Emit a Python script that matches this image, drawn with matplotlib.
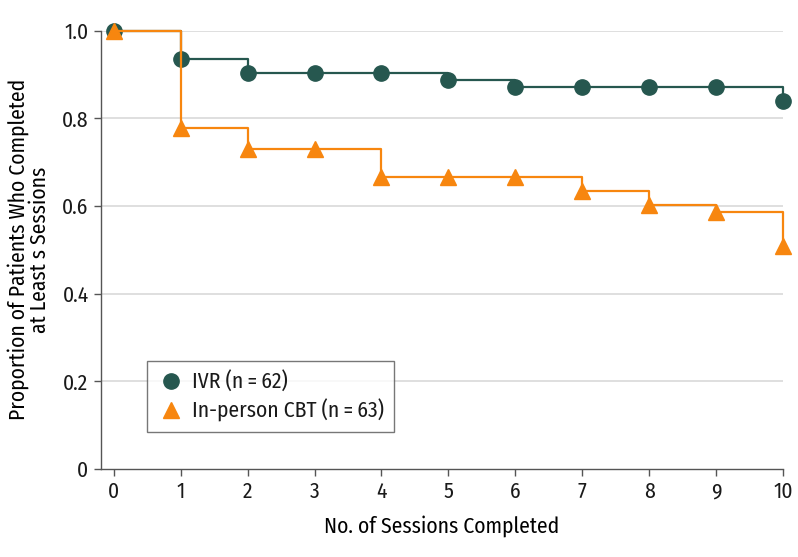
import numpy as np
import matplotlib
matplotlib.use('Agg')
import matplotlib.pyplot as plt

plt.rcParams['font.family'] = ['Fira Sans Condensed', 'DejaVu Sans']
plt.rcParams['text.color'] = '#1a1a1a'
plt.rcParams['xtick.labelcolor'] = '#1a1a1a'
plt.rcParams['ytick.labelcolor'] = '#1a1a1a'

sessions = [0, 1, 2, 3, 4, 5, 6, 7, 8, 9, 10]
ivr = [1.0, 0.935, 0.903, 0.903, 0.903, 0.887, 0.871, 0.871, 0.871, 0.871, 0.839]
cbt = [1.0, 0.778, 0.730, 0.730, 0.667, 0.667, 0.667, 0.635, 0.603, 0.587, 0.508]
yticks = [0, 0.2, 0.4, 0.6, 0.8, 1.0]
ytick_labels = ['0', '0.2', '0.4', '0.6', '0.8', '1.0']

teal = '#26574f'
orange = '#f7860f'

fig = plt.figure(figsize=(7.98, 5.57), dpi=100)
ax = fig.add_axes([101/798, 88.3/557, (783-101)/798, 438/557])

for v in yticks[1:]:
    ax.axhline(v, color='#d9d9d9', lw=1.2, zorder=0)

ax.plot(sessions, ivr, drawstyle='steps-post', color=teal, lw=1.6, clip_on=False, zorder=3)
ax.plot(sessions, ivr, 'o', color=teal, ms=11, clip_on=False, zorder=3, label='IVR (n\u2009=\u200962)')
ax.plot(sessions, cbt, drawstyle='steps-post', color=orange, lw=1.6, clip_on=False, zorder=4)
ax.plot(sessions, cbt, '^', color=orange, ms=12, clip_on=False, zorder=4, label='In-person CBT (n\u2009=\u200963)')

ax.set_xlim(-0.19, 10)
ax.set_ylim(0, 1.0)
ax.set_xticks(sessions)
ax.set_yticks(yticks)
ax.set_yticklabels(ytick_labels)
for s in ['top', 'right']:
    ax.spines[s].set_visible(False)
for s in ['left', 'bottom']:
    ax.spines[s].set_color('#555555')
    ax.spines[s].set_linewidth(1.0)
ax.tick_params(direction='out', length=5, width=1.0, color='#555555', labelsize=15.5, pad=4)

ax.set_xlabel('No. of Sessions Completed', fontsize=15.5, labelpad=9)
ax.set_ylabel('Proportion of Patients Who Completed\nat Least s Sessions', fontsize=15.5, labelpad=8, linespacing=1.0)

leg = ax.legend(loc='lower left', bbox_to_anchor=(147/798, (557-432)/557), bbox_transform=fig.transFigure,
                fontsize=15.5, frameon=True, fancybox=False, edgecolor='#555555', borderpad=0.45,
                borderaxespad=0, handletextpad=0.35, handlelength=1.3, labelspacing=0.3)
leg.get_frame().set_linewidth(1.0)

fig.savefig('out.png', dpi=100)
